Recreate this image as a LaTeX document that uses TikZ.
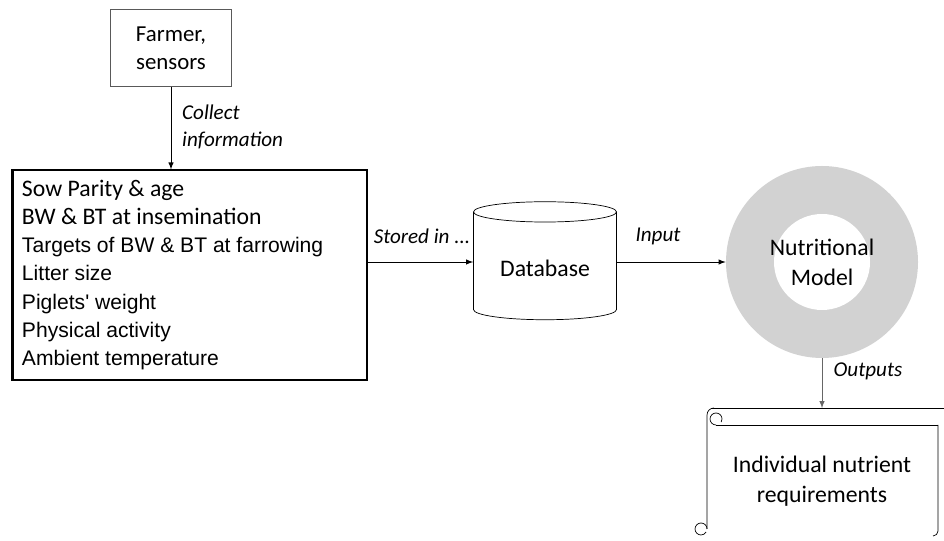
\documentclass[tikz,border=0pt]{standalone}
\usepackage{fontspec}
\setmainfont{Carlito}
\newfontfamily\arialfont{Liberation Sans}
\usetikzlibrary{shapes.geometric}
\definecolor{ringgray}{RGB}{210,210,210}

\begin{document}
\begin{tikzpicture}[x=0.2mm,y=0.2mm,>=latex,
  note/.style={font=\itshape\fontsize{12}{15}\selectfont},
  big/.style={font=\fontsize{13.5}{17}\selectfont}]
\useasboundingbox (0,0) rectangle (944,541);
% farmer, sensors
\node[draw=black!65, minimum width=2.42cm, minimum height=1.54cm, align=center,
  font=\fontsize{13}{16}\selectfont] (farmer) at (171,493) {Farmer,\\ sensors};
% collected information
\node[draw, semithick, minimum width=7.08cm, minimum height=4.2cm, inner xsep=1.8mm] (list) at (190,266) {
\begin{minipage}{6.72cm}
\fontsize{13.5}{16}\selectfont
Sow Parity \& age\\
BW \& BT at insemination\\
\arialfont\fontsize{12}{16}\selectfont
Targets of BW \& BT at farrowing\\
Litter size\\
Piglets' weight\\
Physical activity\\
Ambient temperature
\end{minipage}};
\draw[line width=1.6pt] (list.north west) -- (list.south west);
\draw[->] (farmer.south) -- (farmer.south |- list.north);
\node[note, align=left, anchor=west] (collect) at (176,414) {Collect\\ information};
% nutritional model
\node[circle, fill=ringgray, minimum size=3.84cm] (model) at (822,279) {};
\fill[white] (model.center) circle (0.96cm);
\node[big, align=center] (modellabel) at (model.center) {Nutritional\\ Model};
% database
\node[cylinder, shape border rotate=90, draw, aspect=0.2, minimum width=2.86cm,
  minimum height=2.36cm, big] (db) at (545,273) {Database};
\draw[->] (list.east |- model.west) -- (db.west |- model.west);
\node[note] (stored) at (422,305) {Stored in ...};
\draw[->] (db.east |- model.west) -- (model.west);
\node[note] (input) at (658,305) {Input};
% individual requirements
\node[minimum width=4.62cm, minimum height=2.58cm] (req) at (822,68) {};
\draw (714,133) to[out=180,in=90] (707,126) -- (707,12);
\draw (712,133) -- (944,133);
\draw (716,116) -- (938,116);
\draw (716,116) arc[start angle=270, end angle=-30, radius=1.2mm];
\draw (707,12) arc[start angle=0, end angle=330, radius=1.2mm];
\draw (938,116) -- (938,10) arc[start angle=0, end angle=-90, radius=1mm];
\node[big, align=center] (reqlabel) at (822,60) {Individual nutrient\\ requirements};
\draw[->, black!60] (model.south) -- (req.north);
\node[note] (outputs) at (868,170) {Outputs};
\end{tikzpicture}
\end{document}
